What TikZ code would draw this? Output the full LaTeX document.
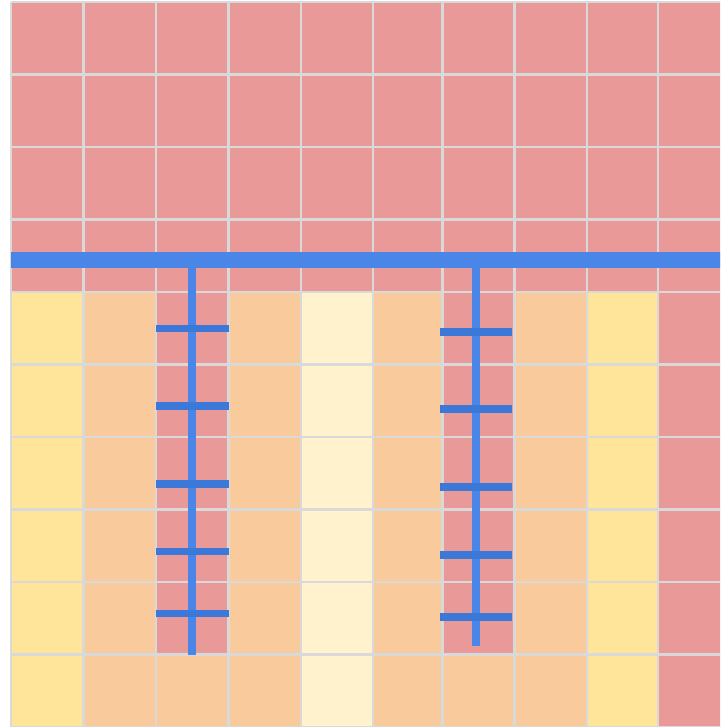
\documentclass[tikz,border=0pt]{standalone}
\definecolor{cpink}{HTML}{EA9999}
\definecolor{corange}{HTML}{F9CB9C}
\definecolor{cyellow}{HTML}{FFE599}
\definecolor{ccream}{HTML}{FFF2CC}
\definecolor{cblue}{HTML}{4A86E8}
\definecolor{ctick}{HTML}{3C78D8}
\definecolor{cgrid}{HTML}{D9D9D9}
\tikzset{
  gridline/.style={draw=cgrid, line width=2.3pt},
  bandbar/.style={fill=cblue},
  tickbar/.style={fill=ctick},
}
\begin{document}
\begin{tikzpicture}[x=1pt,y=-1pt]
\useasboundingbox (0,0) rectangle (720,727);
\fill[white] (0,0) rectangle (720,727);
\begin{scope}
\clip (0,0) rectangle (720,727);
% column boundaries
\def\cols{{11,83.5,156,228.5,301,373,442.5,514.5,587,658,731}}
% top pink region
\fill[cpink] (11,2) rectangle (731,292);
% lower region columns
\foreach \i/\c in {0/cyellow,1/corange,2/cpink,3/corange,4/ccream,5/corange,6/cpink,7/corange,8/cyellow,9/cpink}{
  \pgfmathsetmacro{\xa}{\cols[\i]}
  \pgfmathsetmacro{\xb}{\cols[\i+1]}
  \fill[\c] (\xa,292) rectangle (\xb,727);
}
% bottom row of pink columns is orange
\fill[corange] (156,654.5) rectangle (228.5,727);
\fill[corange] (442.5,654.5) rectangle (514.5,727);
% grid lines
\foreach \i in {0,...,10}{
  \pgfmathsetmacro{\xa}{\cols[\i]}
  \draw[gridline] (\xa,2) -- (\xa,727);
}
\foreach \k in {0,...,10}{
  \draw[gridline] (11,2+72.5*\k) -- (731,2+72.5*\k);
}
% horizontal blue band
\fill[bandbar] (11,252) rectangle (731,268);
% vertical bars
\fill[bandbar] (188,252) rectangle (196,655);
\fill[bandbar] (472,252) rectangle (480,646);
% ticks
\foreach \y in {328.5,406,484,551.5,613.5}{
  \fill[tickbar] (156,\y-3.9) rectangle (228.5,\y+3.9);
}
\foreach \y in {331.7,409.3,487,555,616.7}{
  \fill[tickbar] (440,\y-3.9) rectangle (512,\y+3.9);
}
\end{scope}
\end{tikzpicture}
\end{document}
